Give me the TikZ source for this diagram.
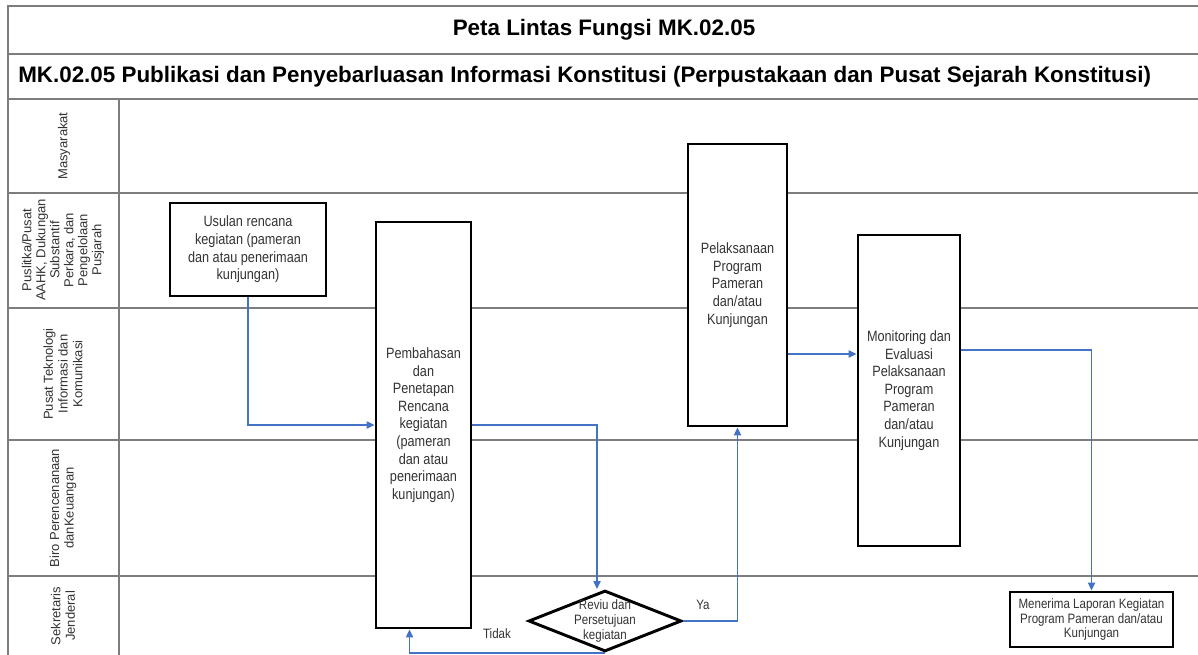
\documentclass[tikz,border=0pt]{standalone}
\usepackage{fontspec}
\setmainfont{Liberation Sans}
\newfontfamily\narfont[FakeStretch=0.85]{Liberation Sans}
\usetikzlibrary{shapes.geometric,arrows.meta,calc}
\definecolor{flowblue}{RGB}{68,114,196}
\definecolor{lanegray}{RGB}{125,125,125}
\begin{document}
\begin{tikzpicture}[x=0.75pt,y=-0.75pt,
  laneline/.style={draw=lanegray,line width=1.4pt},
  procbox/.style={draw=black,line width=2.2pt,fill=white,align=center,inner sep=2pt,
    font={\narfont\fontsize{11.2}{13.2}\selectfont},text=black!80},
  smallbox/.style={draw=black,line width=2.2pt,fill=white,align=center,inner sep=2pt,
    font={\narfont\fontsize{10.2}{11.2}\selectfont},text=black!80},
  decis/.style={diamond,draw=black,line width=2.2pt,fill=white,inner sep=0pt},
  smalltxt/.style={align=center,inner sep=0pt,font={\narfont\fontsize{10.2}{11}\selectfont},text=black!80},
  lanelbl/.style={rotate=90,align=center,inner sep=0pt,font={\fontsize{9.75}{11}\selectfont},text=black!80},
  flow/.style={draw=flowblue,line width=0.9pt,-{Triangle[length=6pt,width=5.5pt]}}
]
\useasboundingbox (0,0) rectangle (1198,655);
\fill[white] (0,0) rectangle (1198,655);

% frame and lanes
\draw[laneline] (8,655) -- (8,6) -- (1198,6);
\draw[laneline] (8,54) -- (1198,54);
\draw[laneline] (8,99) -- (1198,99);
\draw[laneline] (8,193) -- (1198,193);
\draw[laneline] (8,308) -- (1198,308);
\draw[laneline] (8,440) -- (1198,440);
\draw[laneline] (8,576) -- (1198,576);
\draw[laneline] (119,99) -- (119,655);

% titles
\node[inner sep=0pt,font={\bfseries\fontsize{16.8}{20}\selectfont}] (title) at (604,30) {Peta Lintas Fungsi MK.02.05};
\node[anchor=west,inner sep=0pt,font={\bfseries\fontsize{16.8}{20}\selectfont}] (subtitle) at (18,76.5) {MK.02.05 Publikasi dan Penyebarluasan Informasi Konstitusi (Perpustakaan dan Pusat Sejarah Konstitusi)};

% lane labels
\node[lanelbl] (lane1) at (64,146) {Masyarakat};
\node[lanelbl,font={\fontsize{9.75}{10.5}\selectfont}] (lane2) at (63,250) {Puslitka/Pusat\\AAHK, Dukungan\\Substantif\\Perkara, dan\\Pengelolaan\\Pusjarah};
\node[lanelbl] (lane3) at (63,374) {Pusat Teknologi\\Informasi dan\\Komunikasi};
\node[lanelbl] (lane4) at (63,508) {Biro Perencenanaan\\danKeuangan};
\node[lanelbl] (lane5) at (63,616) {Sekretaris\\Jenderal};

% process boxes
\node[procbox,minimum width=117pt,minimum height=69.75pt] (usul) at (248,249.5)
  {Usulan rencana\\kegiatan (pameran\\dan atau penerimaan\\kunjungan)};
\node[procbox,minimum width=71.25pt,minimum height=304.5pt] (pemb) at (423.5,425)
  {Pembahasan\\dan\\Penetapan\\Rencana\\kegiatan\\(pameran\\dan atau\\penerimaan\\kunjungan)};
\node[procbox,minimum width=74.25pt,minimum height=211.5pt] (pel) at (737.5,285)
  {Pelaksanaan\\Program\\Pameran\\dan/atau\\Kunjungan};
\node[procbox,minimum width=76.5pt,minimum height=233.25pt] (mon) at (909,390.5)
  {Monitoring dan\\Evaluasi\\Pelaksanaan\\Program\\Pameran\\dan/atau\\Kunjungan};
\node[decis,minimum width=114.75pt,minimum height=45.75pt] (rev) at (605,621) {};
\node[smalltxt] (revtext) at (rev.center) {Reviu dan\\Persetujuan\\kegiatan};
\node[smallbox,minimum width=122.25pt,minimum height=41.25pt] (men) at (1091.5,619.5)
  {Menerima Laporan Kegiatan\\Program Pameran dan/atau\\Kunjungan};

% connectors
\draw[flow] (usul.south) |- (pemb.west);
\draw[flow] (pemb.east) -| ([xshift=-6pt]rev.north);
\draw[flow] (rev.east) -| (pel.south);
\draw[flow] (rev.south) -| ([xshift=-10.5pt]pemb.south);
\coordinate (p5) at ([yshift=-51.75pt]pel.east);
\draw[flow] (p5) -- (p5 -| mon.west);
\coordinate (p6) at ([yshift=30.4pt]mon.east);
\draw[flow] (p6) -| (men.north);

% branch labels
\node[smalltxt] (ya) at (703,605) {Ya};
\node[smalltxt] (tidak) at (497,634) {Tidak};
\end{tikzpicture}
\end{document}
